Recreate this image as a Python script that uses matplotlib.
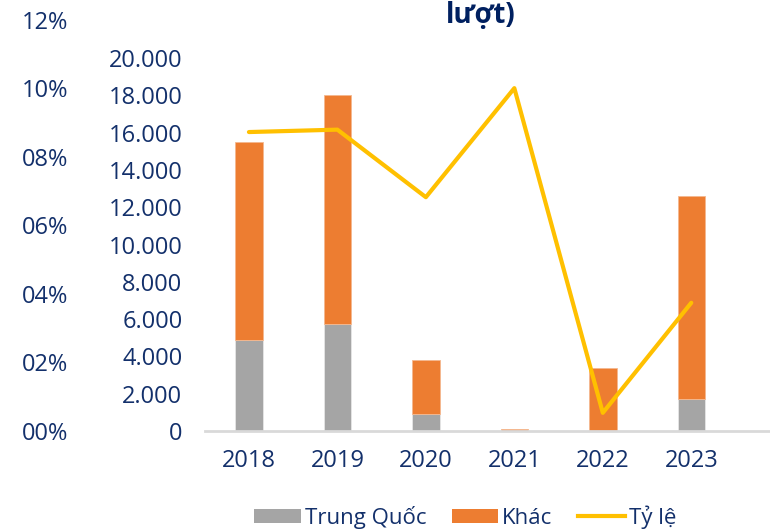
#!/usr/bin/env python
"""Stacked bars (Trung Quốc / Khác) with a ratio line on a second scale."""
import matplotlib

matplotlib.use("Agg")
from matplotlib import pyplot as plt
from matplotlib.lines import Line2D
from matplotlib.patches import Patch
from matplotlib.ticker import FuncFormatter

years = ["2018", "2019", "2020", "2021", "2022", "2023"]
trung_quoc = [4900, 5750, 900, 0, 0, 1700]
khac = [10600, 12250, 2900, 100, 3400, 10900]
ty_le = [8.72, 8.79, 6.82, 10.0, 0.53, 3.74]

bar_ticks = list(range(0, 20001, 2000))
pct_ticks = list(range(0, 13, 2))

NAVY = "#13306b"
GRAY = "#a5a5a5"
ORANGE = "#ed7d31"
YELLOW = "#ffc000"

plt.rcParams["font.family"] = ["Open Sans", "DejaVu Sans"]
W, H = 770, 531
fig = plt.figure(figsize=(W / 100, H / 100), dpi=100)


def px_axes(left, top, right, bottom):
    return fig.add_axes([left / W, 1 - bottom / H, (right - left) / W, (bottom - top) / H])


xs = list(range(len(years)))
xlim = (-0.5, 5.89)

# bars
ax = px_axes(204.7, 58, 770, 431)
ax.bar(xs, trung_quoc, width=0.31, color=GRAY, edgecolor="#e6e6e6", linewidth=0.6, zorder=2)
ax.bar(xs, khac, width=0.31, bottom=trung_quoc, color=ORANGE, edgecolor="#f4b88f",
       linewidth=0.6, zorder=2)
ax.set_xlim(*xlim)
ax.set_ylim(0, 20000)
ax.set_yticks(bar_ticks)
ax.yaxis.set_major_formatter(FuncFormatter(lambda v, _: f"{int(v):,}".replace(",", ".")))
ax.set_xticks(xs)
ax.set_xticklabels(years)
ax.tick_params(axis="both", length=0, labelsize=17, labelcolor=NAVY)
ax.tick_params(axis="y", pad=16)
ax.tick_params(axis="x", pad=13)
for side in ["top", "right", "left"]:
    ax.spines[side].set_visible(False)
ax.spines["bottom"].set_color("#d9d9d9")
ax.spines["bottom"].set_linewidth(2)

# ratio line on its own percent scale
ax2 = px_axes(204.7, 19.6, 770, 431)
ax2.patch.set_alpha(0)
ax2.plot(xs, ty_le, color=YELLOW, linewidth=3, solid_joinstyle="round",
         solid_capstyle="round", zorder=3)
ax2.set_xlim(*xlim)
ax2.set_ylim(0, 12)
ax2.set_yticks(pct_ticks)
ax2.yaxis.set_major_formatter(FuncFormatter(lambda v, _: f"{int(v):02d}%"))
ax2.set_xticks([])
ax2.tick_params(axis="y", length=0, labelsize=17, labelcolor=NAVY, pad=98)
for spine in ax2.spines.values():
    spine.set_visible(False)

# title is cut off by the top edge, only its last line shows
fig.text(481 / W, 1 - 23 / H, "lượt)", ha="center", va="baseline", fontsize=20,
         fontweight="bold", color="#002060")

handles = [
    Patch(facecolor=GRAY, label="Trung Quốc"),
    Patch(facecolor=ORANGE, label="Khác"),
    Line2D([], [], color=YELLOW, linewidth=3, label="Tỷ lệ"),
]
fig.legend(handles=handles, loc="center", bbox_to_anchor=(465 / W, 1 - 517 / H), ncol=3,
           frameon=False, fontsize=16, labelcolor=NAVY, handlelength=2.1,
           handleheight=0.65, handletextpad=0.18, columnspacing=1.15)

fig.savefig("out.png", dpi=100)
